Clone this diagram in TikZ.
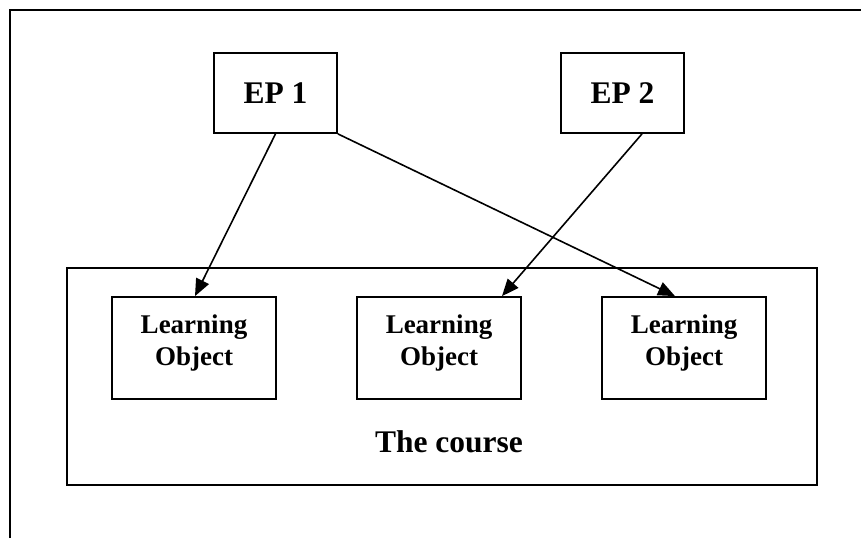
\documentclass[tikz,border=0pt]{standalone}
\usepackage{fontspec}
\setmainfont{Liberation Serif}
\usetikzlibrary{arrows.meta}
\begin{document}
\begin{tikzpicture}[x=1pt,y=-1pt,
  frameline/.style={line width=2pt},
  boxline/.style={draw,line width=1.8pt,inner sep=0pt},
  epbox/.style={boxline,minimum width=123pt,minimum height=80pt,
    font=\fontsize{31.5}{36}\selectfont\bfseries},
  lobox/.style={boxline,minimum width=164pt,minimum height=102pt,align=center,
    text depth=15pt,font=\fontsize{27}{32}\selectfont\bfseries},
  coursebox/.style={boxline,minimum width=750pt,minimum height=217pt},
  link/.style={line width=1.6pt,-{Triangle[length=17pt,width=14pt]}}]
\useasboundingbox (0,0) rectangle (861,538);
\coordinate (fa) at (10,538);
\coordinate (fb) at (10,10);
\coordinate (fc) at (861,10);
\draw[frameline] (fa) -- (fb) -- (fc);
\node[coursebox] (course) at (442,376.5) {};
\node[anchor=base,font=\fontsize{31.5}{36}\selectfont\bfseries] (coursetitle) at (449,452) {The course};
\node[epbox] (ep1) at (275.5,93) {EP 1};
\node[epbox] (ep2) at (622.5,93) {EP 2};
\node[lobox] (lo1) at (194,348) {Learning\\Object};
\node[lobox] (lo2) at (439,348) {Learning\\Object};
\node[lobox] (lo3) at (684,348) {Learning\\Object};
\draw[link] (ep1.south) -- ([xshift=1pt]lo1.north);
\draw[link] (ep1.south east) -- ([xshift=-9pt]lo3.north);
\draw[link] ([xshift=19.5pt]ep2.south) -- ([xshift=63pt]lo2.north);
\end{tikzpicture}
\end{document}
